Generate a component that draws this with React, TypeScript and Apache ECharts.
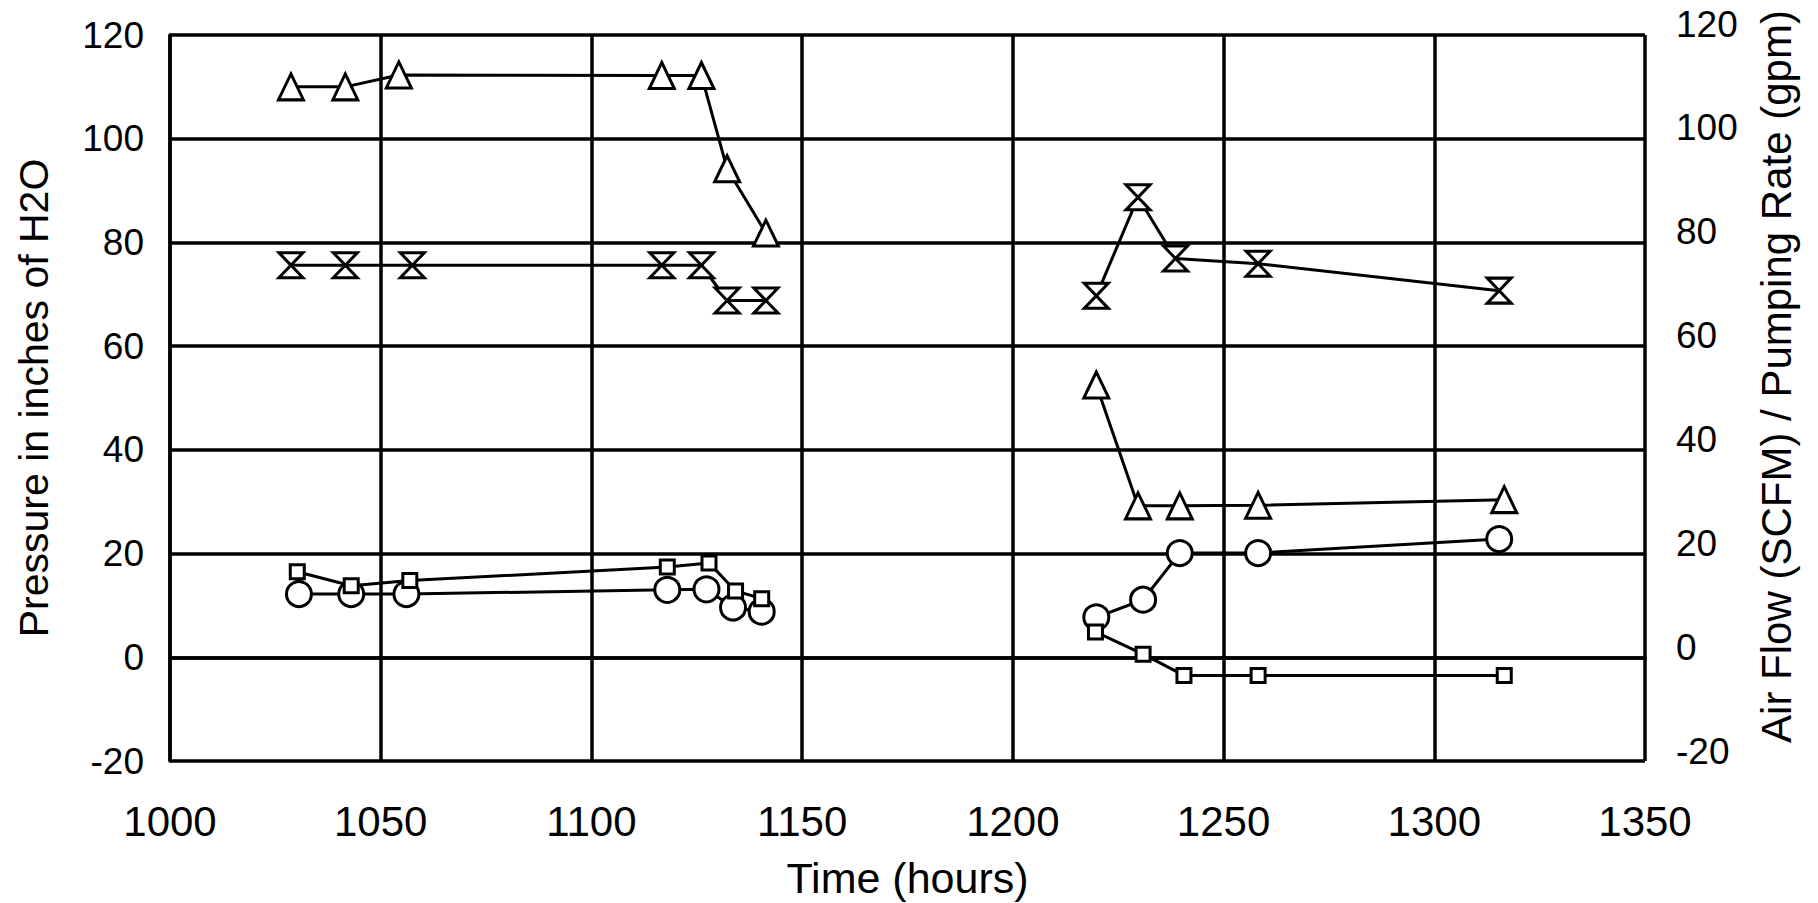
import React, { useEffect, useRef } from "react";
import * as echarts from "echarts";

// Time (hours) and values; null marks a break in the line
const triangleTime = [1028.7, 1041.6, 1054.3, 1116.7, 1126.1, 1132.2, 1141.4, null, 1219.8, 1229.7, 1239.6, 1258.2, 1316.6];
const triangleValue = [110, 110, 112.3, 112.2, 112.2, 94.2, 81.8, null, 52.5, 29.2, 29.2, 29.3, 30.4];

const hourglassTime = [1028.7, 1041.6, 1057.5, 1116.7, 1126.1, 1132.2, 1141.4, null, 1219.8, 1229.7, 1238.6, 1258.2, 1315.4];
const hourglassValue = [75.6, 75.6, 75.6, 75.6, 75.6, 68.8, 68.8, null, 69.7, 88.7, 76.9, 75.9, 70.7];

const circleTime = [1030.6, 1043.0, 1056.1, 1118.0, 1127.3, 1133.6, 1140.4, null, 1219.8, 1230.9, 1239.6, 1258.2, 1315.4];
const circleValue = [12.2, 12.2, 12.2, 13.0, 13.1, 9.6, 8.8, null, 7.7, 11.1, 20.1, 20.1, 22.8];

const squareTime = [1030.2, 1043.0, 1056.9, 1118.0, 1127.9, 1134.2, 1140.4, null, 1219.6, 1230.9, 1240.6, 1258.2, 1316.6];
const squareValue = [16.5, 13.8, 14.8, 17.4, 18.2, 12.8, 11.3, null, 4.9, 0.6, -3.5, -3.5, -3.5];

const xTitle = "Time (hours)";
const leftTitle = "Pressure in inches of H2O";
const rightTitle = "Air Flow (SCFM) / Pumping Rate (gpm)";

const FONT = "'Liberation Sans', Arial, Helvetica, sans-serif";

function pairs(times: (number | null)[], values: (number | null)[]) {
  return times.map((t, i) => (t == null || values[i] == null ? [null, null] : [t, values[i]]));
}

export default function App() {
  const ref = useRef<HTMLDivElement>(null);

  useEffect(() => {
    if (!ref.current) return;
    const chart = echarts.init(ref.current, null, { renderer: "svg" });

    const seriesBase = {
      type: "line",
      xAxisIndex: 0,
      yAxisIndex: 0,
      connectNulls: false,
      lineStyle: { color: "#000", width: 3 },
      itemStyle: { color: "#fff", borderColor: "#000", borderWidth: 3 },
      showAllSymbol: true,
      z: 5,
    };

    chart.setOption({
      animation: false,
      backgroundColor: "#fff",
      textStyle: { fontFamily: FONT, color: "#000" },
      grid: [
        { left: 170, right: 173, top: 35, bottom: 142, outerBoundsMode: "none" },
        { left: 170, right: 173, top: 24, bottom: 152, outerBoundsMode: "none" },
      ],
      xAxis: [
        {
          type: "value",
          gridIndex: 0,
          min: 1000,
          max: 1350,
          interval: 50,
          axisLine: { show: true, lineStyle: { color: "#000", width: 3.5 } },
          axisTick: { show: false },
          splitLine: { show: true, lineStyle: { color: "#000", width: 3.5 } },
          axisLabel: {
            fontSize: 42,
            color: "#000",
            margin: 39,
            fontFamily: FONT,
            formatter: (v: number) => String(v),
          },
          name: xTitle,
          nameLocation: "middle",
          nameGap: 95,
          nameTextStyle: { fontSize: 43, color: "#000", fontFamily: FONT },
        },
        {
          type: "value",
          gridIndex: 1,
          min: 1000,
          max: 1350,
          show: false,
        },
      ],
      yAxis: [
        {
          type: "value",
          gridIndex: 0,
          position: "left",
          min: -20,
          max: 120,
          interval: 20,
          axisLine: { show: true, lineStyle: { color: "#000", width: 3.5 } },
          axisTick: { show: false },
          splitLine: { show: true, lineStyle: { color: "#000", width: 3.5 } },
          axisLabel: { fontSize: 37, color: "#000", margin: 26, fontFamily: FONT },
          name: leftTitle,
          nameLocation: "middle",
          nameGap: 116,
          nameTextStyle: { fontSize: 41, color: "#000", fontFamily: FONT },
        },
        {
          type: "value",
          gridIndex: 1,
          position: "right",
          min: -20,
          max: 120,
          interval: 20,
          axisLine: { show: false },
          axisTick: { show: false },
          splitLine: { show: false },
          axisLabel: { fontSize: 37, color: "#000", margin: 31, fontFamily: FONT },
          name: rightTitle,
          nameLocation: "middle",
          nameGap: 110,
          nameTextStyle: { fontSize: 42, color: "#000", fontFamily: FONT, padding: [0, 0, 0, 22] },
        },
      ],
      series: [
        {
          ...seriesBase,
          name: "Triangle",
          symbol: "triangle",
          symbolSize: [25, 26],
          data: pairs(triangleTime, triangleValue),
        },
        {
          ...seriesBase,
          name: "Hourglass",
          symbol: "path://M0,0L24,0L0,26L24,26Z",
          symbolSize: [24, 25],
          data: pairs(hourglassTime, hourglassValue),
        },
        {
          ...seriesBase,
          name: "Circle",
          symbol: "circle",
          symbolSize: 25,
          data: pairs(circleTime, circleValue),
        },
        {
          ...seriesBase,
          name: "Square",
          symbol: "rect",
          symbolSize: 14,
          data: pairs(squareTime, squareValue),
        },
      ],
    });

    return () => chart.dispose();
  }, []);

  return (
    <div
      ref={ref}
      style={{ position: "fixed", left: 0, top: 0, width: 1818, height: 903, background: "#fff" }}
    />
  );
}
